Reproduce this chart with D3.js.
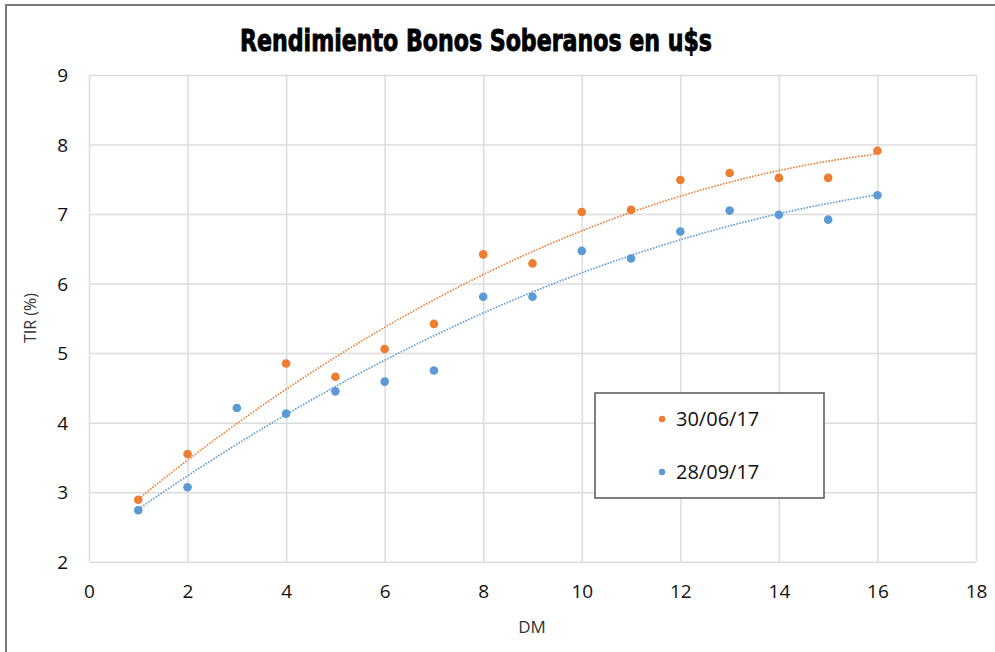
<!DOCTYPE html>
<html>
<head>
<meta charset="utf-8">
<script src="https://cdn.jsdelivr.net/npm/d3@7"></script>
<style>
  html, body { margin: 0; padding: 0; background: #fff; }
  svg { display: block; }
</style>
</head>
<body>
<svg id="chart" width="995" height="652"></svg>
<script>
// ---- data ----
const titleText = "Rendimiento Bonos Soberanos en u$s";
const xLabel = "DM";
const yLabel = "TIR (%)";
const seriesNames = ["30/06/17", "28/09/17"];
const seriesColors = ["#ED7D31", "#5B9BD5"];
const dm = [1, 2, 3, 4, 5, 6, 7, 8, 9, 10, 11, 12, 13, 14, 15, 16];
const tir300617 = [2.89, 3.55, null, 4.85, 4.66, 5.06, 5.42, 6.42, 6.29, 7.03, 7.06, 7.49, 7.59, 7.52, 7.52, 7.91];
const tir280917 = [2.74, 3.07, 4.21, 4.13, 4.45, 4.59, 4.75, 5.81, 5.81, 6.47, 6.36, 6.75, 7.05, 6.99, 6.92, 7.27];
const xTicks = [0, 2, 4, 6, 8, 10, 12, 14, 16, 18];
const yTicks = [2, 3, 4, 5, 6, 7, 8, 9];

// ---- layout ----
const svg = d3.select("#chart");
const L = 89, R = 976, T = 75, B = 561.7;
const x = d3.scaleLinear().domain([0, 18]).range([L, R]);
const y = d3.scaleLinear().domain([2, 9]).range([B, T]);

// outer border
svg.append("rect").attr("x", 6).attr("y", 5).attr("width", 1100).attr("height", 800)
  .attr("fill", "#fff").attr("stroke", "#7a7a7a").attr("stroke-width", 2);

// title
const title = svg.append("text").attr("x", 476).attr("y", 51)
  .attr("text-anchor", "middle")
  .style("font-family", "'Liberation Sans Narrow','DejaVu Sans Condensed','Liberation Sans',sans-serif")
  .style("font-weight", "bold").style("font-size", "31px")
  .attr("fill", "#000").attr("stroke", "#000").attr("stroke-width", 0.9)
  .text(titleText);
title.attr("textLength", 472).attr("lengthAdjust", "spacingAndGlyphs");

// gridlines via axes
const gridColor = "#dcdcdc";
const gx = svg.append("g").attr("transform", `translate(0,${B})`)
  .call(d3.axisBottom(x).tickValues(xTicks).tickSize(-(B - T)).tickFormat(""));
gx.select(".domain").remove();
gx.selectAll("line").attr("stroke", gridColor).attr("stroke-width", 1.5);

const gy = svg.append("g").attr("transform", `translate(${L},0)`)
  .call(d3.axisLeft(y).tickValues(yTicks).tickSize(-(R - L)).tickFormat(""));
gy.select(".domain").remove();
gy.selectAll("line").attr("stroke", gridColor).attr("stroke-width", 1.5);

// tick labels
const tickFont = "'Open Sans','Liberation Sans',sans-serif";
const xl = svg.append("g").attr("transform", `translate(0,${B})`)
  .call(d3.axisBottom(x).tickValues(xTicks).tickSize(0).tickPadding(0).tickFormat(d3.format("d")));
xl.select(".domain").remove();
xl.selectAll("text").attr("dy", null).attr("y", 36)
  .style("font-family", tickFont).style("font-size", "19px").attr("fill", "#111");

const yl = svg.append("g").attr("transform", `translate(${L},0)`)
  .call(d3.axisLeft(y).tickValues(yTicks).tickSize(0).tickPadding(0).tickFormat(d3.format("d")));
yl.select(".domain").remove();
yl.selectAll("text").attr("x", -21).attr("dy", "0.35em")
  .style("font-family", tickFont).style("font-size", "19px").attr("fill", "#111");

// axis titles
svg.append("text").attr("x", 532).attr("y", 633).attr("text-anchor", "middle")
  .style("font-family", tickFont).style("font-size", "17px").attr("fill", "#333")
  .text(xLabel);
svg.append("text").attr("transform", "translate(36,318) rotate(-90)").attr("text-anchor", "middle")
  .style("font-family", tickFont).style("font-size", "16px").attr("fill", "#333")
  .text(yLabel);

// quadratic least squares fit (trendline)
function quadFit(xs, ys) {
  const pts = xs.map((v, i) => [v, ys[i]]).filter(p => p[1] != null);
  const S = k => d3.sum(pts, p => Math.pow(p[0], k));
  const Sy = k => d3.sum(pts, p => Math.pow(p[0], k) * p[1]);
  const A = [[S(0), S(1), S(2), Sy(0)], [S(1), S(2), S(3), Sy(1)], [S(2), S(3), S(4), Sy(2)]];
  for (let i = 0; i < 3; i++) {
    for (let j = i + 1; j < 3; j++) {
      const f = A[j][i] / A[i][i];
      for (let k = i; k < 4; k++) A[j][k] -= f * A[i][k];
    }
  }
  const c = [0, 0, 0];
  for (let i = 2; i >= 0; i--) {
    let s = A[i][3];
    for (let k = i + 1; k < 3; k++) s -= A[i][k] * c[k];
    c[i] = s / A[i][i];
  }
  return xv => c[0] + c[1] * xv + c[2] * xv * xv;
}

const seriesData = [tir300617, tir280917];
const line = d3.line().x(d => x(d[0])).y(d => y(d[1]));
const xs = d3.range(dm[0], dm[dm.length - 1] + 0.001, 0.1);

seriesData.forEach((vals, si) => {
  const f = quadFit(dm, vals);
  svg.append("path").datum(xs.map(v => [v, f(v)]))
    .attr("d", line).attr("fill", "none")
    .attr("stroke", seriesColors[si]).attr("stroke-width", 1.6)
    .attr("stroke-dasharray", "1.6,1.4");
});

seriesData.forEach((vals, si) => {
  svg.append("g").selectAll("circle")
    .data(dm.map((d, i) => [d, vals[i]]).filter(p => p[1] != null))
    .join("circle")
    .attr("cx", d => x(d[0])).attr("cy", d => y(d[1])).attr("r", 4.3)
    .attr("fill", seriesColors[si]);
});

// legend
const lg = svg.append("g");
lg.append("rect").attr("x", 595).attr("y", 393).attr("width", 229).attr("height", 105)
  .attr("fill", "#fff").attr("stroke", "#555").attr("stroke-width", 1.5);
seriesNames.forEach((n, i) => {
  const cy = 419 + i * 53;
  lg.append("circle").attr("cx", 662).attr("cy", cy).attr("r", 3.2).attr("fill", seriesColors[i]);
  lg.append("text").attr("x", 676).attr("y", cy).attr("dy", "0.36em")
    .style("font-family", tickFont).style("font-size", "20px").attr("fill", "#111")
    .text(n);
});
</script>
</body>
</html>
